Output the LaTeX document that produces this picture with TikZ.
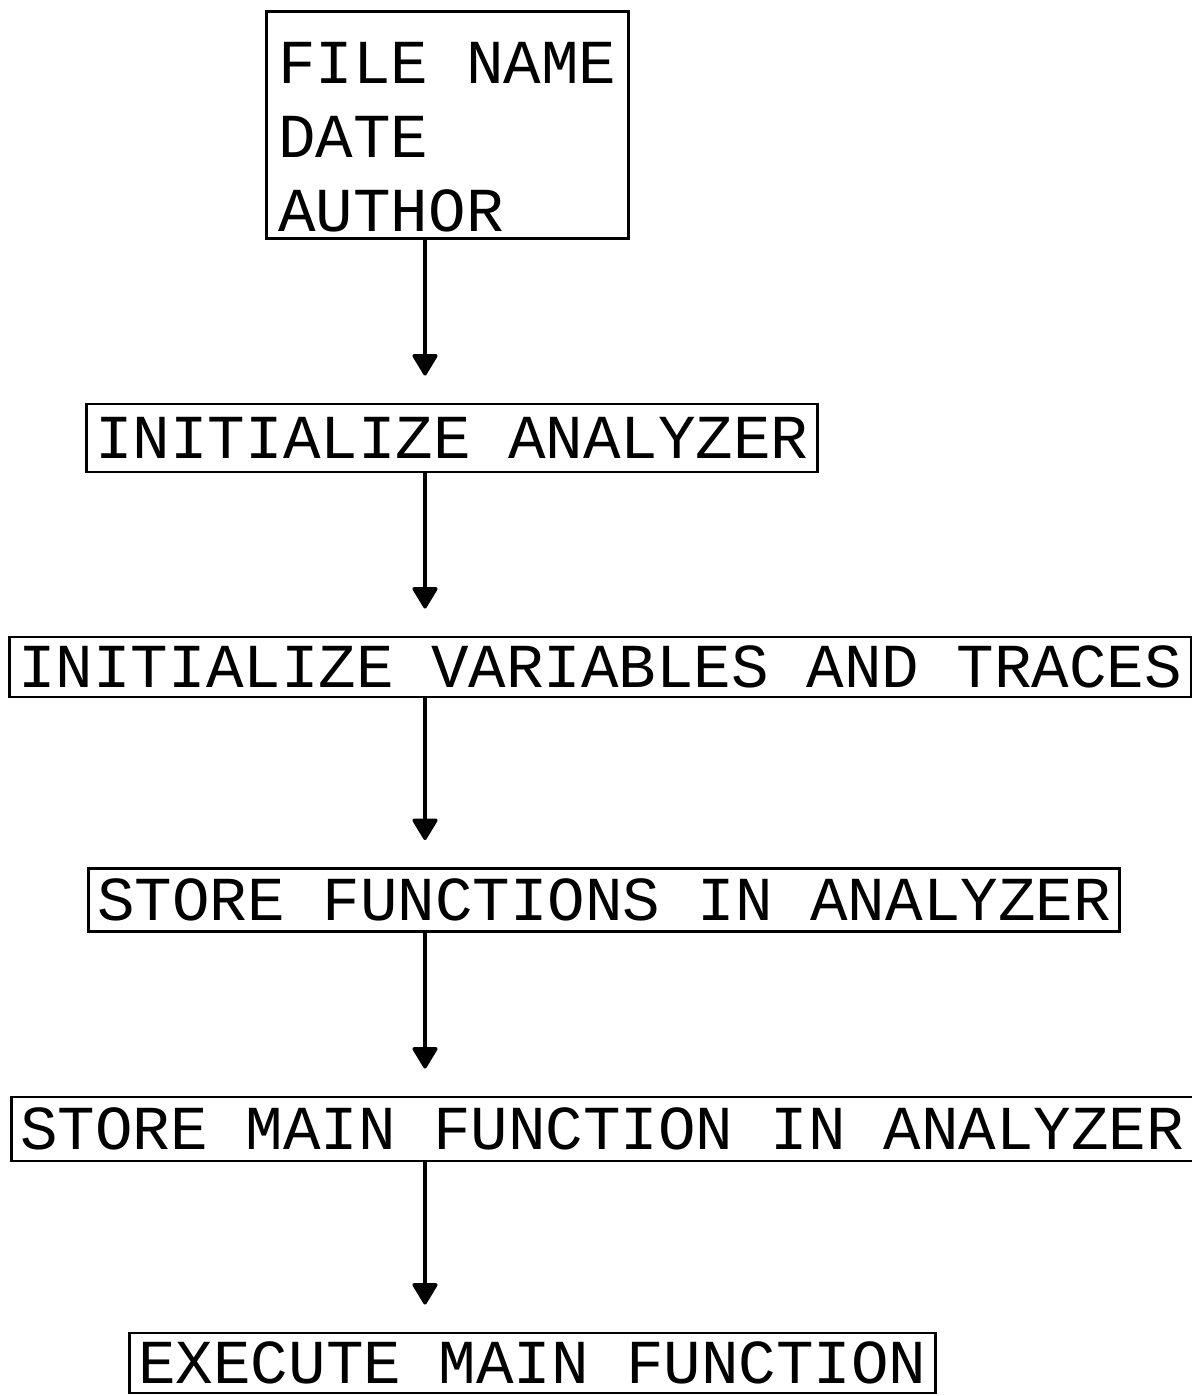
\documentclass[tikz,border=0pt]{standalone}
\usepackage{fontspec}
\newfontfamily\flowfont{Liberation Mono}
\usetikzlibrary{arrows.meta, positioning}

\begin{document}
\begin{tikzpicture}[
  x=0.02cm, y=-0.02cm,
  stepbox/.style={draw, line width=1.6pt, font=\flowfont\fontsize{35.6pt}{42.1pt}\selectfont,
    inner xsep=0.18cm, inner ysep=0pt, text height=23.4pt, text depth=0pt, anchor=west},
  headbox/.style={stepbox, align=left, anchor=north west, inner xsep=0.24cm,
    text height=4.4cm, text depth=0.14cm},
  flowarrow/.style={line width=1.8pt, -{Triangle[width=0.54cm, length=0.46cm, round]},
    shorten >=0.54cm}
]
  \useasboundingbox (0,0) rectangle (1191,1396);
  \coordinate (spine) at (425,0);
  % boxes
  \node[headbox] (hdr) at (265,10) {FILE NAME\\DATE\\AUTHOR};
  \node[stepbox, minimum height=1.36cm] (initan)    at (85,438)   {INITIALIZE ANALYZER};
  \node[stepbox, minimum height=1.20cm] (initvar)   at (8,667)    {INITIALIZE VARIABLES AND TRACES};
  \node[stepbox, minimum height=1.26cm] (storefn)   at (87,900)   {STORE FUNCTIONS IN ANALYZER};
  \node[stepbox, minimum height=1.28cm] (storemain) at (10,1129)  {STORE MAIN FUNCTION IN ANALYZER};
  \node[stepbox, minimum height=1.20cm] (execmain)  at (128,1363) {EXECUTE MAIN FUNCTION};
  % arrows
  \draw[flowarrow] (hdr.south -| spine)       -- (initan.north -| spine);
  \draw[flowarrow] (initan.south -| spine)    -- (initvar.north -| spine);
  \draw[flowarrow] (initvar.south -| spine)   -- (storefn.north -| spine);
  \draw[flowarrow] (storefn.south -| spine)   -- (storemain.north -| spine);
  \draw[flowarrow] (storemain.south -| spine) -- (execmain.north -| spine);
\end{tikzpicture}
\end{document}
